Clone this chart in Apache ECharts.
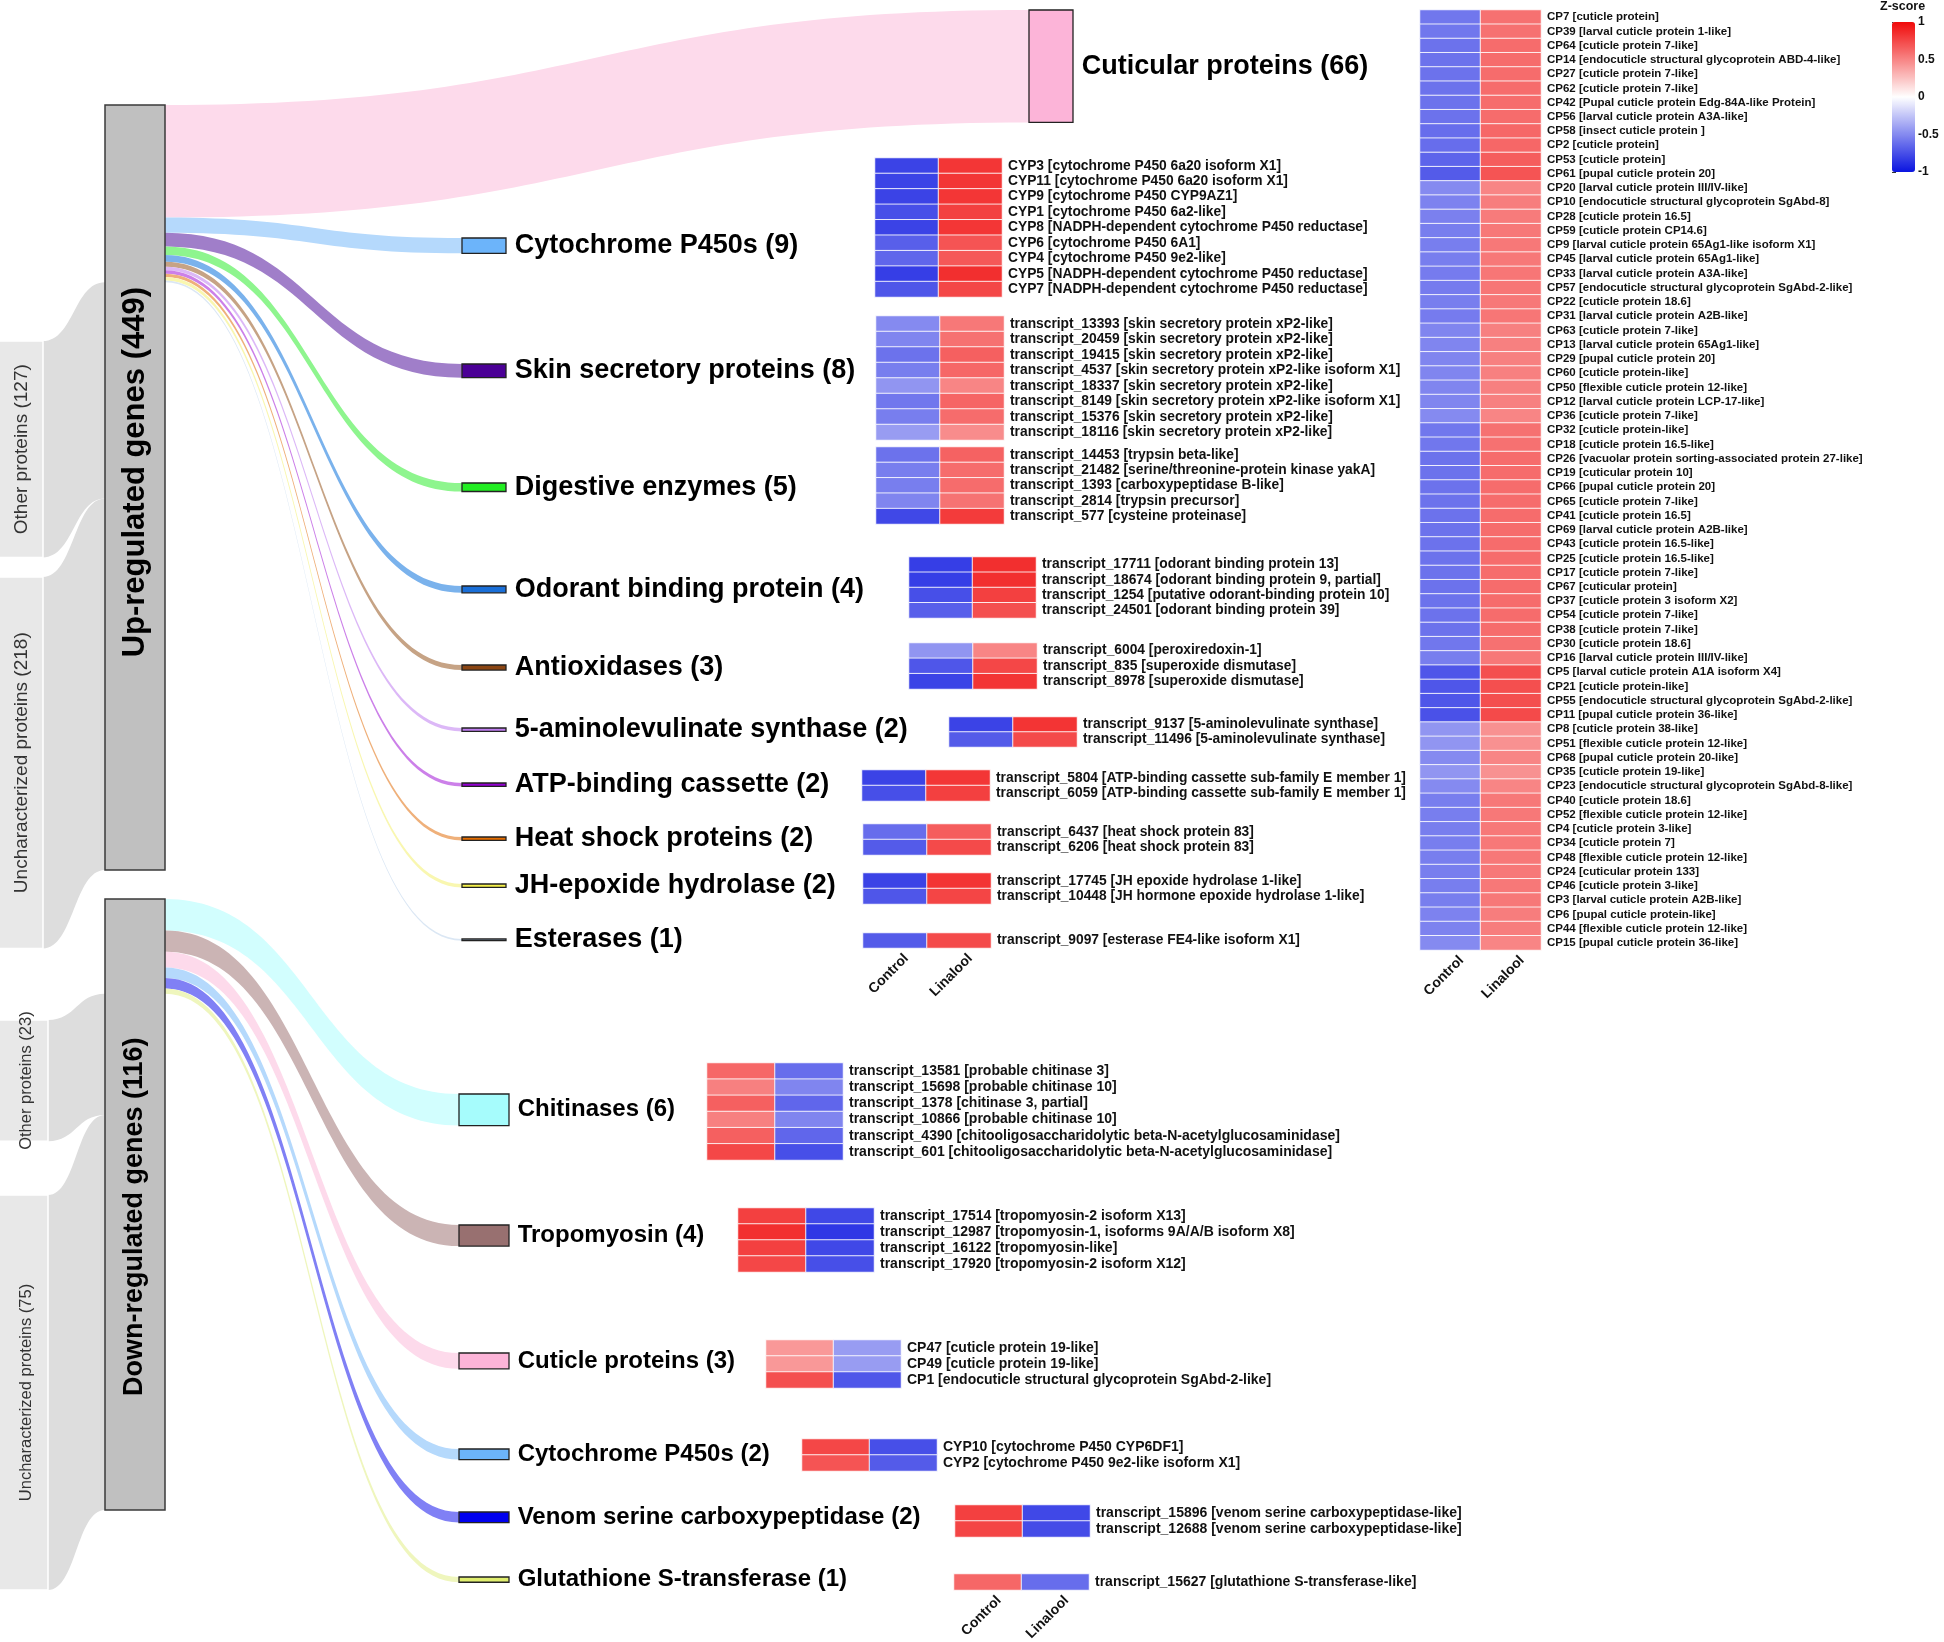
<!DOCTYPE html>
<html><head><meta charset="utf-8">
<script src="https://cdn.jsdelivr.net/npm/echarts@6/dist/echarts.min.js"></script>
<style>html,body{margin:0;padding:0;background:#fff}#c{width:1944px;height:1642px}</style>
</head><body><div id="c"></div>
<script>
// ================= DATA =================
const conditions = ['Control', 'Linalool'];
const zTicks = [-1, -0.5, 0, 0.5, 1];

// Sankey: up-regulated
const upBarLabel = 'Up-regulated genes';
const upTotal = 449;
const upSources = ['Other proteins', 'Uncharacterized proteins'];
const upSourceCounts = [127, 218];
const upCategories = ['Cuticular proteins', 'Cytochrome P450s', 'Skin secretory proteins', 'Digestive enzymes',
  'Odorant binding protein', 'Antioxidases', '5-aminolevulinate synthase', 'ATP-binding cassette',
  'Heat shock proteins', 'JH-epoxide hydrolase', 'Esterases'];
const upCounts = [66, 9, 8, 5, 4, 3, 2, 2, 2, 2, 1];

// Sankey: down-regulated
const downBarLabel = 'Down-regulated genes';
const downTotal = 116;
const downSources = ['Other proteins', 'Uncharacterized proteins'];
const downSourceCounts = [23, 75];
const downCategories = ['Chitinases', 'Tropomyosin', 'Cuticle proteins', 'Cytochrome P450s',
  'Venom serine carboxypeptidase', 'Glutathione S-transferase'];
const downCounts = [6, 4, 3, 2, 2, 1];

// Heatmaps (z-scores)
const cpGenes = ['CP7 [cuticle protein]','CP39 [larval cuticle protein 1-like]','CP64 [cuticle protein 7-like]',
 'CP14 [endocuticle structural glycoprotein ABD-4-like]','CP27 [cuticle protein 7-like]','CP62 [cuticle protein 7-like]',
 'CP42 [Pupal cuticle protein Edg-84A-like Protein]','CP56 [larval cuticle protein A3A-like]','CP58 [insect cuticle protein ]',
 'CP2 [cuticle protein]','CP53 [cuticle protein]','CP61 [pupal cuticle protein 20]','CP20 [larval cuticle protein III/IV-like]',
 'CP10 [endocuticle structural glycoprotein SgAbd-8]','CP28 [cuticle protein 16.5]','CP59 [cuticle protein CP14.6]',
 'CP9 [larval cuticle protein 65Ag1-like isoform X1]','CP45 [larval cuticle protein 65Ag1-like]','CP33 [larval cuticle protein A3A-like]',
 'CP57 [endocuticle structural glycoprotein SgAbd-2-like]','CP22 [cuticle protein 18.6]','CP31 [larval cuticle protein A2B-like]',
 'CP63 [cuticle protein 7-like]','CP13 [larval cuticle protein 65Ag1-like]','CP29 [pupal cuticle protein 20]',
 'CP60 [cuticle protein-like]','CP50 [flexible cuticle protein 12-like]','CP12 [larval cuticle protein LCP-17-like]',
 'CP36 [cuticle protein 7-like]','CP32 [cuticle protein-like]','CP18 [cuticle protein 16.5-like]',
 'CP26 [vacuolar protein sorting-associated protein 27-like]','CP19 [cuticular protein 10]','CP66 [pupal cuticle protein 20]',
 'CP65 [cuticle protein 7-like]','CP41 [cuticle protein 16.5]','CP69 [larval cuticle protein A2B-like]',
 'CP43 [cuticle protein 16.5-like]','CP25 [cuticle protein 16.5-like]','CP17 [cuticle protein 7-like]',
 'CP67 [cuticular protein]','CP37 [cuticle protein 3 isoform X2]','CP54 [cuticle protein 7-like]',
 'CP38 [cuticle protein 7-like]','CP30 [cuticle protein 18.6]','CP16 [larval cuticle protein III/IV-like]',
 'CP5 [larval cuticle protein A1A isoform X4]','CP21 [cuticle protein-like]','CP55 [endocuticle structural glycoprotein SgAbd-2-like]',
 'CP11 [pupal cuticle protein 36-like]','CP8 [cuticle protein 38-like]','CP51 [flexible cuticle protein 12-like]',
 'CP68 [pupal cuticle protein 20-like]','CP35 [cuticle protein 19-like]','CP23 [endocuticle structural glycoprotein SgAbd-8-like]',
 'CP40 [cuticle protein 18.6]','CP52 [flexible cuticle protein 12-like]','CP4 [cuticle protein 3-like]',
 'CP34 [cuticle protein 7]','CP48 [flexible cuticle protein 12-like]','CP24 [cuticular protein 133]',
 'CP46 [cuticle protein 3-like]','CP3 [larval cuticle protein A2B-like]','CP6 [pupal cuticle protein-like]',
 'CP44 [flexible cuticle protein 12-like]','CP15 [pupal cuticle protein 36-like]'];
const cpControl = [-0.58,-0.58,-0.6,-0.6,-0.6,-0.6,-0.6,-0.6,-0.62,-0.62,-0.66,-0.7,-0.5,-0.53,-0.54,-0.55,-0.55,-0.55,-0.56,-0.56,-0.55,-0.56,
 -0.52,-0.52,-0.52,-0.52,-0.52,-0.52,-0.5,-0.58,-0.58,-0.6,-0.6,-0.6,-0.6,-0.6,-0.6,-0.6,-0.6,-0.6,-0.6,-0.6,-0.6,-0.6,-0.58,
 -0.55,-0.72,-0.72,-0.72,-0.74,-0.45,-0.45,-0.5,-0.45,-0.5,-0.55,-0.55,-0.55,-0.55,-0.55,-0.55,-0.55,-0.55,-0.53,-0.53,-0.5];
const cpLinalool = [0.58,0.58,0.6,0.6,0.6,0.6,0.6,0.6,0.62,0.62,0.66,0.7,0.5,0.53,0.54,0.55,0.55,0.55,0.56,0.56,0.55,0.56,
 0.52,0.52,0.52,0.52,0.52,0.52,0.5,0.58,0.58,0.6,0.6,0.6,0.6,0.6,0.6,0.6,0.6,0.6,0.6,0.6,0.6,0.6,0.58,
 0.55,0.72,0.72,0.72,0.74,0.45,0.45,0.5,0.45,0.5,0.55,0.55,0.55,0.55,0.55,0.55,0.55,0.55,0.53,0.53,0.5];

const cypUpGenes = ['CYP3 [cytochrome P450 6a20 isoform X1]','CYP11 [cytochrome P450 6a20 isoform X1]','CYP9 [cytochrome P450 CYP9AZ1]',
 'CYP1 [cytochrome P450 6a2-like]','CYP8 [NADPH-dependent cytochrome P450 reductase]','CYP6 [cytochrome P450 6A1]',
 'CYP4 [cytochrome P450 9e2-like]','CYP5 [NADPH-dependent cytochrome P450 reductase]','CYP7 [NADPH-dependent cytochrome P450 reductase]'];
const cypUpControl = [-0.8,-0.8,-0.8,-0.75,-0.8,-0.68,-0.65,-0.82,-0.72];
const cypUpLinalool = [0.82,0.82,0.82,0.78,0.82,0.7,0.68,0.85,0.75];

const skinGenes = ['transcript_13393 [skin secretory protein xP2-like]','transcript_20459 [skin secretory protein xP2-like]',
 'transcript_19415 [skin secretory protein xP2-like]','transcript_4537 [skin secretory protein xP2-like isoform X1]',
 'transcript_18337 [skin secretory protein xP2-like]','transcript_8149 [skin secretory protein xP2-like isoform X1]',
 'transcript_15376 [skin secretory protein xP2-like]','transcript_18116 [skin secretory protein xP2-like]'];
const skinControl = [-0.5,-0.52,-0.6,-0.55,-0.45,-0.58,-0.55,-0.42];
const skinLinalool = [0.55,0.58,0.65,0.62,0.5,0.63,0.6,0.47];

const digGenes = ['transcript_14453 [trypsin beta-like]','transcript_21482 [serine/threonine-protein kinase yakA]',
 'transcript_1393 [carboxypeptidase B-like]','transcript_2814 [trypsin precursor]','transcript_577 [cysteine proteinase]'];
const digControl = [-0.6,-0.55,-0.55,-0.52,-0.78];
const digLinalool = [0.64,0.6,0.6,0.57,0.8];

const obpGenes = ['transcript_17711 [odorant binding protein 13]','transcript_18674 [odorant binding protein 9, partial]',
 'transcript_1254 [putative odorant-binding protein 10]','transcript_24501 [odorant binding protein 39]'];
const obpControl = [-0.82,-0.82,-0.75,-0.68];
const obpLinalool = [0.85,0.85,0.78,0.72];

const antiGenes = ['transcript_6004 [peroxiredoxin-1]','transcript_835 [superoxide dismutase]','transcript_8978 [superoxide dismutase]'];
const antiControl = [-0.45,-0.72,-0.8];
const antiLinalool = [0.5,0.75,0.83];

const alaGenes = ['transcript_9137 [5-aminolevulinate synthase]','transcript_11496 [5-aminolevulinate synthase]'];
const alaControl = [-0.8,-0.7];
const alaLinalool = [0.83,0.74];

const abcGenes = ['transcript_5804 [ATP-binding cassette sub-family E member 1]','transcript_6059 [ATP-binding cassette sub-family E member 1]'];
const abcControl = [-0.8,-0.75];
const abcLinalool = [0.82,0.78];

const hspGenes = ['transcript_6437 [heat shock protein 83]','transcript_6206 [heat shock protein 83]'];
const hspControl = [-0.62,-0.7];
const hspLinalool = [0.66,0.74];

const jhGenes = ['transcript_17745 [JH epoxide hydrolase 1-like]','transcript_10448 [JH hormone epoxide hydrolase 1-like]'];
const jhControl = [-0.8,-0.72];
const jhLinalool = [0.83,0.76];

const estGenes = ['transcript_9097 [esterase FE4-like isoform X1]'];
const estControl = [-0.7];
const estLinalool = [0.74];

const chiGenes = ['transcript_13581 [probable chitinase 3]','transcript_15698 [probable chitinase 10]','transcript_1378 [chitinase 3, partial]',
 'transcript_10866 [probable chitinase 10]','transcript_4390 [chitooligosaccharidolytic beta-N-acetylglucosaminidase]',
 'transcript_601 [chitooligosaccharidolytic beta-N-acetylglucosaminidase]'];
const chiControl = [0.62,0.52,0.65,0.52,0.65,0.75];
const chiLinalool = [-0.62,-0.52,-0.65,-0.52,-0.65,-0.75];

const tpmGenes = ['transcript_17514 [tropomyosin-2 isoform X13]','transcript_12987 [tropomyosin-1, isoforms 9A/A/B isoform X8]',
 'transcript_16122 [tropomyosin-like]','transcript_17920 [tropomyosin-2 isoform X12]'];
const tpmControl = [0.78,0.85,0.78,0.75];
const tpmLinalool = [-0.78,-0.85,-0.78,-0.75];

const cuDownGenes = ['CP47 [cuticle protein 19-like]','CP49 [cuticle protein 19-like]','CP1 [endocuticle structural glycoprotein SgAbd-2-like]'];
const cuDownControl = [0.42,0.42,0.72];
const cuDownLinalool = [-0.42,-0.42,-0.72];

const cypDownGenes = ['CYP10 [cytochrome P450 CYP6DF1]','CYP2 [cytochrome P450 9e2-like isoform X1]'];
const cypDownControl = [0.75,0.7];
const cypDownLinalool = [-0.75,-0.7];

const venomGenes = ['transcript_15896 [venom serine carboxypeptidase-like]','transcript_12688 [venom serine carboxypeptidase-like]'];
const venomControl = [0.78,0.76];
const venomLinalool = [-0.78,-0.76];

const gstGenes = ['transcript_15627 [glutathione S-transferase-like]'];
const gstControl = [0.62];
const gstLinalool = [-0.62];

// ================= STYLE / LAYOUT =================
const FONT = "'Liberation Sans', Arial, Helvetica, sans-serif";
const upNodeColors = ['#fcb4d8','#6cb4fa','#4b0096','#22ee22','#1a6fd8','#8b4513','#c07ef2','#9400d3','#e56d00','#f5f04a','#b0cfee'];
const upFlowColors = ['#fddaeb','#b5d9fc','#a07ec9','#8ef58e','#7ab2ec','#c6a385','#dcb8f7','#cc80e9','#efb07a','#f9f7b0','#dbe7f4'];
const downNodeColors = ['#a6fcfc','#987070','#fcb4d8','#6cb4fa','#0000ee','#e0ee6e'];
const downFlowColors = ['#d2fefe','#cbb4b4','#fddaeb','#b5d9fc','#8080f5','#eff6bd'];

const upLayout = {top:105, height:765, barX:105, barWidth:60, srcX:-17, srcTops:[341,577], srcLabelX:'64%', srcFont:19,
  barFont:31, barLabelY:'48%', catWidth:44, catX:[1029,462,462,462,462,462,462,462,462,462,462],
  catTops:[10,238,364,483,586,665,728,783,837,884,939], catFont:27};
const downLayout = {top:899, height:611, barX:105, barWidth:60, srcX:-12, srcTops:[1020,1195], srcLabelX:'63%', srcFont:16.5,
  barFont:27, barLabelY:'52%', catWidth:50, catX:[459,459,459,459,459,459],
  catTops:[1094,1225,1353,1449,1512,1577], catFont:24};

function buildSankeys(cfg, L) {
  const lx = x => x / 1000;
  const ly = y => (y - L.top) / L.height;
  const barName = `${cfg.barLabel} (${cfg.total})`;
  const spacer = '\u200b';
  const spacerVal = cfg.counts.reduce((a, b) => a + b, 0);
  const srcNames = cfg.sources.map((s, i) => `${s} (${cfg.sourceCounts[i]})`);
  const catNames = cfg.cats.map((c, i) => `${c} (${cfg.counts[i]})`);
  const common = {type:'sankey', left:0, top:L.top, width:1000, height:L.height, layoutIterations:0,
    draggable:false, silent:true, emphasis:{disabled:true}, animation:false};
  const left = Object.assign({}, common, {
    nodeWidth:L.barWidth, nodeGap:0,
    data:[
      {name:spacer, localX:lx(L.srcX), localY:0, itemStyle:{color:'rgba(0,0,0,0)', borderWidth:0}, label:{show:false}},
      ...srcNames.map((n, i) => ({name:n, localX:lx(L.srcX), localY:ly(L.srcTops[i]),
        itemStyle:{color:'#e8e8e8', borderColor:'#ffffff', borderWidth:1.5},
        label:{show:true, position:[L.srcLabelX, '50%'], rotate:90, align:'center', verticalAlign:'middle',
          fontSize:L.srcFont, color:'#333', fontFamily:FONT}})),
      {name:barName, localX:lx(L.barX), localY:0,
        itemStyle:{color:'#c0c0c0', borderColor:'#3a3a3a', borderWidth:1.5},
        label:{show:true, position:['50%', L.barLabelY], rotate:90, align:'center', verticalAlign:'middle',
          fontSize:L.barFont, fontWeight:'bold', color:'#000', fontFamily:FONT}}
    ],
    links:[
      {source:spacer, target:barName, value:spacerVal, lineStyle:{opacity:0}},
      ...srcNames.map((n, i) => ({source:n, target:barName, value:cfg.sourceCounts[i],
        lineStyle:{color:'#dddddd', opacity:1, curveness:0.5}}))
    ]
  });
  const right = Object.assign({}, common, {
    nodeWidth:L.catWidth, nodeGap:4,
    data:[
      {name:barName, value:cfg.total, localX:lx(L.barX + L.barWidth - L.catWidth), localY:0,
        itemStyle:{opacity:0, borderWidth:0}, label:{show:false}},
      ...catNames.map((n, i) => ({name:n, localX:lx(L.catX[i]), localY:ly(L.catTops[i]),
        itemStyle:{color:cfg.nodeColors[i], borderColor:'#222', borderWidth:1.3},
        label:{show:true, position:'right', distance:8, fontSize:L.catFont, fontWeight:'bold', color:'#000', fontFamily:FONT}}))
    ],
    links: catNames.map((n, i) => ({source:barName, target:n, value:cfg.counts[i],
      lineStyle:{color:cfg.flowColors[i], opacity:1, curveness:0.5}}))
  });
  return [left, right];
}

const series = [];
series.push(...buildSankeys({barLabel:upBarLabel, total:upTotal, sources:upSources, sourceCounts:upSourceCounts,
  cats:upCategories, counts:upCounts, nodeColors:upNodeColors, flowColors:upFlowColors}, upLayout));
series.push(...buildSankeys({barLabel:downBarLabel, total:downTotal, sources:downSources, sourceCounts:downSourceCounts,
  cats:downCategories, counts:downCounts, nodeColors:downNodeColors, flowColors:downFlowColors}, downLayout));

// heatmap blocks: [genes, control, linalool] + layout box [left, top, width, height]
const blocks = [
  {g:cypUpGenes, c:cypUpControl, l:cypUpLinalool, box:[875,158,127,139], font:13.8},
  {g:skinGenes, c:skinControl, l:skinLinalool, box:[876,316,128,124], font:13.8},
  {g:digGenes, c:digControl, l:digLinalool, box:[876,447,128,77], font:13.8},
  {g:obpGenes, c:obpControl, l:obpLinalool, box:[909,557,127,61], font:13.8},
  {g:antiGenes, c:antiControl, l:antiLinalool, box:[909,643,128,46], font:13.8},
  {g:alaGenes, c:alaControl, l:alaLinalool, box:[949,717,128,30], font:13.8},
  {g:abcGenes, c:abcControl, l:abcLinalool, box:[862,770,128,31], font:13.8},
  {g:hspGenes, c:hspControl, l:hspLinalool, box:[863,824,128,31], font:13.8},
  {g:jhGenes, c:jhControl, l:jhLinalool, box:[863,873,128,31], font:13.8},
  {g:estGenes, c:estControl, l:estLinalool, box:[863,933,128,15], font:13.8, xlab:true},
  {g:cpGenes, c:cpControl, l:cpLinalool, box:[1420,10,121,940], font:11.5, xlab:true},
  {g:chiGenes, c:chiControl, l:chiLinalool, box:[707,1063,136,97], font:14},
  {g:tpmGenes, c:tpmControl, l:tpmLinalool, box:[738,1208,136,64], font:14},
  {g:cuDownGenes, c:cuDownControl, l:cuDownLinalool, box:[766,1340,135,48], font:14},
  {g:cypDownGenes, c:cypDownControl, l:cypDownLinalool, box:[802,1439,135,32], font:14},
  {g:venomGenes, c:venomControl, l:venomLinalool, box:[955,1505,135,32], font:14},
  {g:gstGenes, c:gstControl, l:gstLinalool, box:[954,1574,135,16], font:14, xlab:true}
];

const grids = [], xAxes = [], yAxes = [], heatIdx = [];
blocks.forEach((b, i) => {
  grids.push({left:b.box[0], top:b.box[1], width:b.box[2], height:b.box[3], containLabel:false, outerBoundsMode:'none'});
  xAxes.push({type:'category', gridIndex:i, data:conditions, show:!!b.xlab, axisLine:{show:false}, axisTick:{show:false},
    splitLine:{show:false},
    axisLabel:{rotate:45, fontSize:14, fontWeight:'bold', color:'#111', margin:-3, fontFamily:FONT, interval:0,
      align:'right', verticalAlign:'top', lineHeight:32}});
  yAxes.push({type:'category', gridIndex:i, data:b.g, inverse:true, position:'right',
    axisLine:{show:false}, axisTick:{show:false}, splitLine:{show:false},
    axisLabel:{interval:0, fontSize:b.font, fontWeight:'bold', color:'#111', margin:6, fontFamily:FONT}});
  const data = [];
  b.g.forEach((_, r) => { data.push([0, r, b.c[r]]); data.push([1, r, b.l[r]]); });
  heatIdx.push(series.length);
  series.push({type:'heatmap', xAxisIndex:i, yAxisIndex:i, data, silent:true, progressive:0,
    itemStyle:{borderColor:'rgba(255,255,255,0.85)', borderWidth:1}, emphasis:{disabled:true}});
});

// colour bar tick axis
const cbIdx = blocks.length;
grids.push({left:1892, top:22, width:23, height:150, containLabel:false, outerBoundsMode:'none'});
xAxes.push({type:'value', gridIndex:cbIdx, show:false});
yAxes.push({type:'value', gridIndex:cbIdx, min:zTicks[0], max:zTicks[zTicks.length - 1], interval:0.5, position:'right',
  axisLine:{show:false}, splitLine:{show:false},
  axisTick:{show:true, length:4, lineStyle:{color:'#333', width:1}},
  axisLabel:{fontSize:12, fontWeight:'bold', color:'#111', margin:3, fontFamily:FONT}});

const option = {
  animation:false,
  backgroundColor:'#ffffff',
  textStyle:{fontFamily:FONT},
  title:{text:'Z-score', left:1880, top:0, padding:0, textStyle:{fontSize:12.5, fontWeight:'bold', color:'#111', fontFamily:FONT}},
  visualMap:{type:'continuous', min:zTicks[0], max:zTicks[zTicks.length - 1], seriesIndex:heatIdx, calculable:false,
    orient:'vertical', left:1892, top:22, itemWidth:23, itemHeight:150, padding:0,
    inRange:{color:['#0a14e0', '#ffffff', '#f00a0a']}},
  grid:grids, xAxis:xAxes, yAxis:yAxes, series
};
const chart = echarts.init(document.getElementById('c'), null, {width:1944, height:1642});
chart.setOption(option);
</script></body></html>
